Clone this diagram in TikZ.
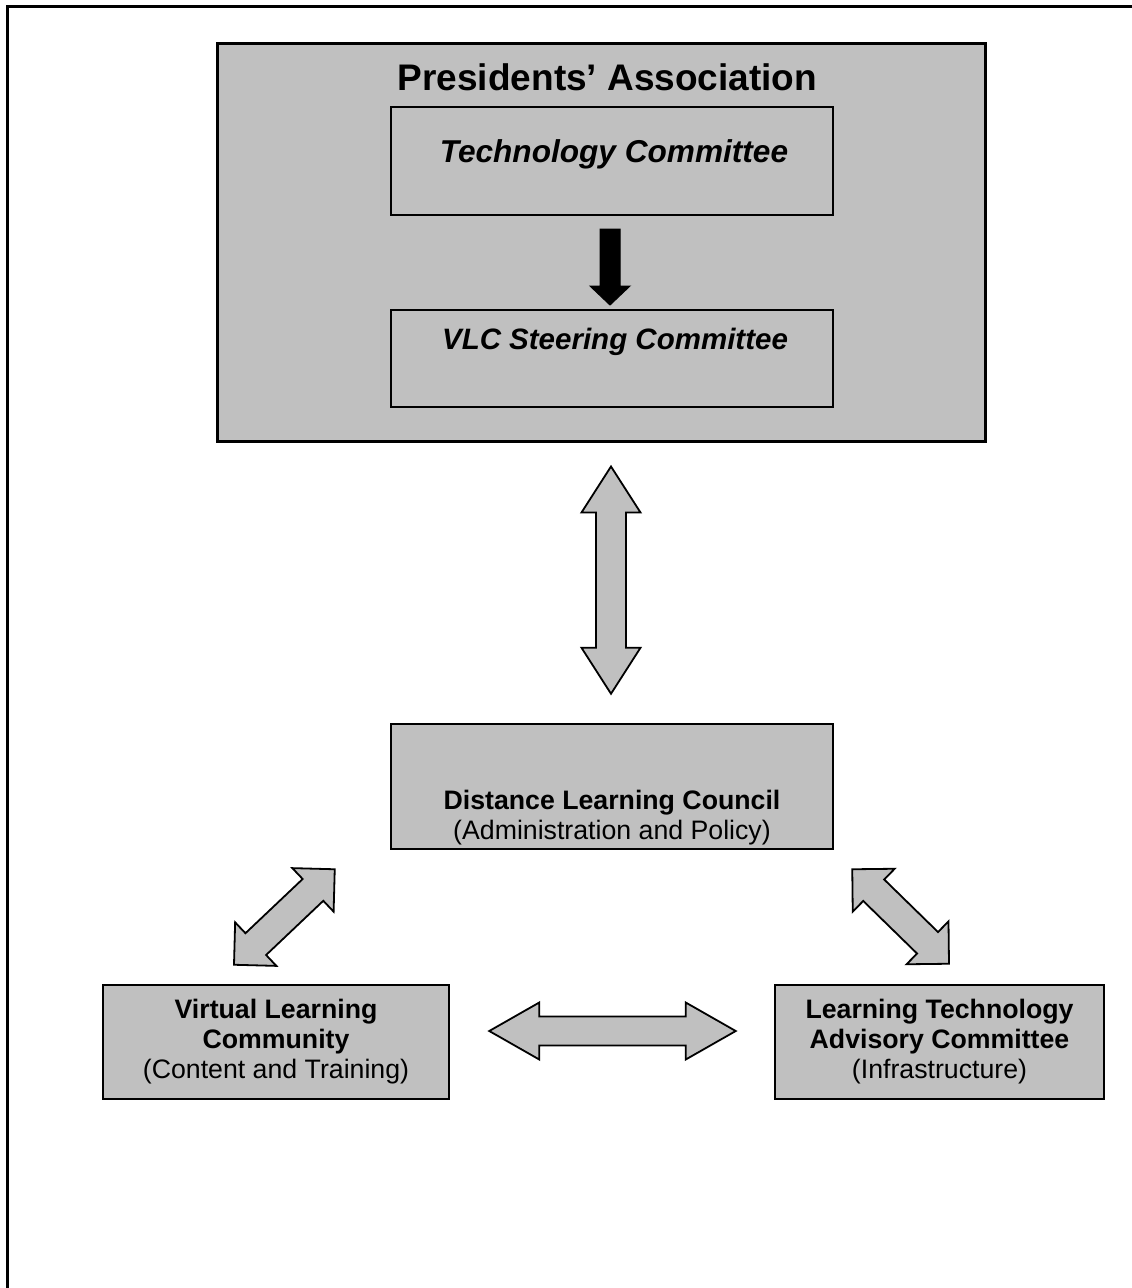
\documentclass[tikz,border=0pt]{standalone}
\usepackage{fontspec}
\setmainfont{Liberation Sans}
\usepackage{xcolor}
\definecolor{boxgray}{RGB}{192,192,192}
\usetikzlibrary{positioning, calc}

% block double arrow: from, to, shaft half width, head half width, head length
\newcommand{\dblarrow}[5]{%
  \draw[blockarrow] (#1) -- ($(#1)!#5!(#2)!#4!90:(#2)$) -- ($(#1)!#5!(#2)!#3!90:(#2)$)
    -- ($(#2)!#5!(#1)!#3!-90:(#1)$) -- ($(#2)!#5!(#1)!#4!-90:(#1)$) -- (#2)
    -- ($(#2)!#5!(#1)!#4!90:(#1)$) -- ($(#2)!#5!(#1)!#3!90:(#1)$)
    -- ($(#1)!#5!(#2)!#3!-90:(#2)$) -- ($(#1)!#5!(#2)!#4!-90:(#2)$) -- cycle;}
% block single arrow: from, to, shaft half width, head half width, head length
\newcommand{\onearrow}[5]{%
  \draw[solidarrow] ($(#1)!#3!90:(#2)$) -- ($(#2)!#5!(#1)!#3!-90:(#1)$)
    -- ($(#2)!#5!(#1)!#4!-90:(#1)$) -- (#2) -- ($(#2)!#5!(#1)!#4!90:(#1)$)
    -- ($(#2)!#5!(#1)!#3!90:(#1)$) -- ($(#1)!#3!-90:(#2)$) -- cycle;}

\begin{document}
\begin{tikzpicture}[
    x=1pt, y=-1pt,
    box/.style={rectangle, draw=black, fill=boxgray, line width=2pt, inner sep=0pt},
    outerbox/.style={box, line width=3pt},
    txt/.style={align=center, inner sep=0pt, font=\fontsize{26.7}{30}\selectfont},
    blockarrow/.style={draw=black, fill=boxgray, line width=1.8pt, line join=miter},
    solidarrow/.style={draw=black, fill=black, line width=1pt, line join=miter},
    frame/.style={draw=black, line width=3pt}
]
    \useasboundingbox (0,0) rectangle (1132,1288);
    \draw[frame] (1132,6) -- (7,6) -- (7,1288);

    % boxes
    \node[outerbox, minimum width=768pt, minimum height=398pt] (pres) at (601,242) {};
    \node[box, minimum width=442pt, minimum height=108pt] (tech) at (612,161) {};
    \node[box, minimum width=442pt, minimum height=97pt] (vlc) at (612,358.5) {};
    \node[box, line width=2.5pt, minimum width=442pt, minimum height=125pt] (dlc) at (612,786.5) {};
    \node[box, line width=2.5pt, minimum width=346pt, minimum height=114pt] (vlcomm) at (276,1042) {};
    \node[box, line width=2.5pt, minimum width=329pt, minimum height=114pt] (ltac) at (939.5,1042) {};

    % texts
    \node[txt, anchor=base, font=\fontsize{37}{44}\selectfont\bfseries] (prestitle)
        at ([xshift=6.5pt, yshift=-49pt]pres.north) {Presidents’ Association};
    \node[txt, anchor=base, font=\fontsize{31.6}{36}\selectfont\bfseries\itshape] (techtitle)
        at ([xshift=2pt, yshift=-56pt]tech.north) {Technology Committee};
    \node[txt, anchor=base, font=\fontsize{29.5}{34}\selectfont\bfseries\itshape] (vlctitle)
        at ([xshift=3pt, yshift=-40pt]vlc.north) {VLC Steering Committee};
    \node[txt, anchor=north] (dlctext) at ([yshift=-67pt]dlc.north)
        {\textbf{Distance Learning Council}\\(Administration and Policy)};
    \node[txt, anchor=north] (vlcommtext) at ([yshift=-15.5pt]vlcomm.north)
        {\textbf{Virtual Learning}\\\textbf{Community}\\(Content and Training)};
    \node[txt, anchor=north] (ltactext) at ([yshift=-15.5pt]ltac.north)
        {\textbf{Learning Technology}\\\textbf{Advisory Committee}\\(Infrastructure)};

    % arrow ends
    \coordinate (presend) at ($(dlc.north |- pres.south)+(-1,24)$);
    \coordinate (dlctop) at ($(dlc.north)+(-1,-29)$);
    \coordinate (dlcleft) at ($(dlc.south west)+(-55,19)$);
    \coordinate (vlcommtop) at ($(vlcomm.north)+(-42,-19)$);
    \coordinate (dlcright) at ($(dlc.south east)+(18,19)$);
    \coordinate (ltactop) at ($(ltac.north)+(9.5,-20)$);
    \coordinate (vlcommright) at ($(vlcomm.east)+(39,-11)$);
    \coordinate (ltacleft) at ($(ltac.west)+(-38,-11)$);
    \coordinate (techbottom) at ($(tech.south)+(-2,13)$);
    \coordinate (vlctop) at ($(vlc.north)+(-2,-4)$);

    % arrows
    \onearrow{techbottom}{vlctop}{10pt}{20pt}{19pt}
    \dblarrow{presend}{dlctop}{15pt}{29.5pt}{46pt}
    \dblarrow{vlcommtop}{dlcleft}{15pt}{30pt}{30pt}
    \dblarrow{dlcright}{ltactop}{15pt}{30pt}{30pt}
    \dblarrow{vlcommright}{ltacleft}{14.5pt}{28.5pt}{50pt}
\end{tikzpicture}
\end{document}
